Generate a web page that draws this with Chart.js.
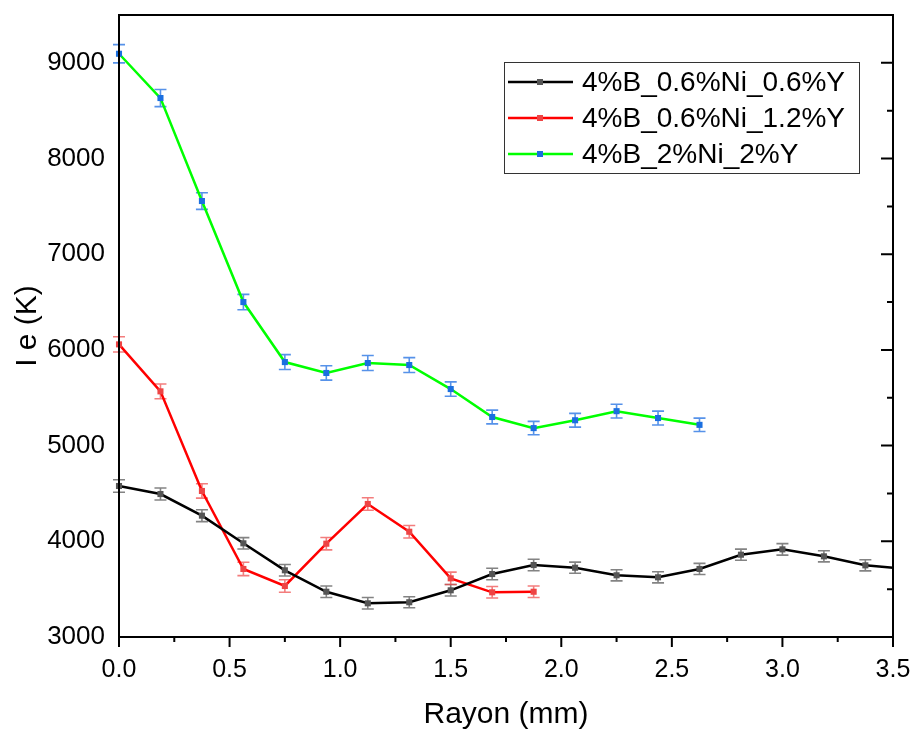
<!DOCTYPE html>
<html>
<head>
<meta charset="utf-8">
<script src="https://cdn.jsdelivr.net/npm/chart.js@4.4.1/dist/chart.umd.min.js"></script>
<style>
  html, body { margin: 0; padding: 0; background: #fff; }
  #box { width: 912px; height: 733px; position: relative; }
</style>
</head>
<body>
<div id="box"><canvas id="c"></canvas></div>
<script>
// rayon (mm) for each series
const rBlack = [0, 0.1875, 0.375, 0.5625, 0.75, 0.9375, 1.125, 1.3125, 1.5, 1.6875, 1.875, 2.0625, 2.25, 2.4375, 2.625, 2.8125, 3.0, 3.1875, 3.375, 3.5625];
const rRed   = [0, 0.1875, 0.375, 0.5625, 0.75, 0.9375, 1.125, 1.3125, 1.5, 1.6875, 1.875];
const rGreen = [0, 0.1875, 0.375, 0.5625, 0.75, 0.9375, 1.125, 1.3125, 1.5, 1.6875, 1.875, 2.0625, 2.25, 2.4375, 2.625];

// Te (K)
const tBlack = [4578, 4494, 4268, 3979, 3697, 3473, 3352, 3363, 3488, 3658, 3752, 3724, 3645, 3624, 3711, 3860, 3916, 3843, 3749, 3712];
const tRed   = [6058, 5567, 4526, 3711, 3533, 3975, 4390, 4100, 3613, 3467, 3473];
const tGreen = [9095, 8632, 7556, 6500, 5873, 5759, 5863, 5842, 5591, 5299, 5183, 5265, 5360, 5288, 5217];

// error bars (+/- K)
const eBlack = [65, 63, 62, 60, 60, 60, 60, 58, 60, 60, 60, 58, 58, 58, 58, 58, 60, 58, 58, 58];
const eRed   = [80, 77, 75, 70, 65, 65, 65, 65, 65, 60, 60];
const eGreen = [95, 90, 87, 80, 78, 75, 78, 78, 75, 72, 70, 72, 72, 72, 70];

const labels = ['4%B_0.6%Ni_0.6%Y', '4%B_0.6%Ni_1.2%Y', '4%B_2%Ni_2%Y'];
const lineColors = ['#000000', '#ff0000', '#00ff00'];
const markColors = ['#555555', '#ee4444', '#1a6fe0'];
const barColors = ['rgba(90,90,90,0.75)', 'rgba(238,70,70,0.7)', 'rgba(30,110,225,0.75)'];

const xMajor = [0, 0.5, 1, 1.5, 2, 2.5, 3, 3.5];
const yMajor = [3000, 4000, 5000, 6000, 7000, 8000, 9000];

const pts = (xs, ys) => xs.map((x, i) => ({ x, y: ys[i] }));
const errs = [eBlack, eRed, eGreen];

const FONT = "'Liberation Sans', Arial, sans-serif";

// error bars
const errPlugin = {
  id: 'errs',
  beforeDatasetsDraw(chart) {
    const { ctx } = chart;
    const xs = chart.scales.x, ys = chart.scales.y;
    chart.data.datasets.forEach((ds, di) => {
      ctx.save();
      ctx.strokeStyle = barColors[di];
      ctx.lineWidth = 1.6;
      ds.data.forEach((p, i) => {
        if (p.x > 3.5) return;
        const px = xs.getPixelForValue(p.x);
        const top = ys.getPixelForValue(p.y + errs[di][i]);
        const bot = ys.getPixelForValue(p.y - errs[di][i]);
        ctx.beginPath();
        ctx.moveTo(px, top); ctx.lineTo(px, bot);
        ctx.moveTo(px - 6, top); ctx.lineTo(px + 6, top);
        ctx.moveTo(px - 6, bot); ctx.lineTo(px + 6, bot);
        ctx.stroke();
      });
      ctx.restore();
    });
  }
};

// frame, ticks and legend
const framePlugin = {
  id: 'frame',
  afterDraw(chart) {
    const { ctx, chartArea: a } = chart;
    const xs = chart.scales.x, ys = chart.scales.y;
    ctx.save();
    ctx.strokeStyle = '#000';
    ctx.lineWidth = 2;
    ctx.strokeRect(a.left, a.top, a.right - a.left, a.bottom - a.top);
    ctx.beginPath();
    for (let v = 0; v <= 3.5001; v += 0.25) {
      const px = xs.getPixelForValue(v);
      const len = Math.abs(v * 2 - Math.round(v * 2)) < 1e-6 ? 10 : 5;
      ctx.moveTo(px, a.bottom); ctx.lineTo(px, a.bottom + len);
    }
    for (let v = 3500; v <= 9500; v += 500) {
      const py = ys.getPixelForValue(v);
      const len = v % 1000 === 0 ? 12 : 6;
      ctx.moveTo(a.right, py); ctx.lineTo(a.right - len, py);
    }
    ctx.stroke();

    // legend
    const L = 504, T = 62, R = 859, B = 173;
    ctx.lineWidth = 1;
    ctx.strokeStyle = '#333';
    ctx.strokeRect(L + 0.5, T + 0.5, R - L, B - T);
    const rows = [82, 118, 154];
    ctx.font = '28px ' + FONT;
    ctx.textBaseline = 'middle';
    ctx.fillStyle = '#000';
    rows.forEach((y, i) => {
      ctx.strokeStyle = lineColors[i];
      ctx.lineWidth = 2.5;
      ctx.beginPath(); ctx.moveTo(508, y); ctx.lineTo(573, y); ctx.stroke();
      ctx.fillStyle = markColors[i];
      ctx.fillRect(537, y - 3, 6, 6);
      ctx.fillStyle = '#000';
      ctx.fillText(labels[i], 582, y + 1);
    });
    ctx.restore();
  }
};

const mk = (i, xs, ys, clip) => ({
  label: labels[i],
  data: pts(xs, ys),
  borderColor: lineColors[i],
  backgroundColor: markColors[i],
  borderWidth: 2.5,
  pointStyle: 'rect',
  pointRadius: 4.3,
  pointBorderWidth: 0,
  pointBackgroundColor: markColors[i],
  tension: 0,
  clip
});

new Chart(document.getElementById('c'), {
  type: 'line',
  data: {
    datasets: [
      mk(0, rBlack, tBlack, { left: 10, top: 10, right: 0, bottom: 10 }),
      mk(1, rRed, tRed, 10),
      mk(2, rGreen, tGreen, 10)
    ]
  },
  options: {
    responsive: true,
    maintainAspectRatio: false,
    animation: false,
    layout: { padding: { top: 15, right: 19, left: 0, bottom: 0 } },
    plugins: { legend: { display: false }, tooltip: { enabled: false } },
    scales: {
      x: {
        type: 'linear', min: 0, max: 3.5,
        grid: { display: false },
        border: { display: false },
        afterBuildTicks: s => { s.ticks = xMajor.map(v => ({ value: v })); },
        afterFit: s => { s.height = 96; s.paddingLeft = 0; s.paddingRight = 0; },
        ticks: {
          color: '#000', padding: 10, maxRotation: 0,
          font: { family: FONT, size: 25 },
          callback: v => v.toFixed(1)
        },
        title: {
          display: true, text: 'Rayon (mm)', color: '#000',
          font: { family: FONT, size: 30 }, padding: { top: 4, bottom: 0 }
        }
      },
      y: {
        type: 'linear', min: 3000, max: 9500,
        grid: { display: false },
        border: { display: false },
        afterBuildTicks: s => { s.ticks = yMajor.map(v => ({ value: v })); },
        afterFit: s => { s.width = 119; s.paddingTop = 0; s.paddingBottom = 0; },
        ticks: {
          color: '#000', padding: 6,
          font: { family: FONT, size: 26 },
          callback: v => String(v)
        },
        title: {
          display: true, text: 'I e (K)', color: '#000',
          font: { family: FONT, size: 30 }, padding: { top: 10, bottom: 0 }
        }
      }
    }
  },
  plugins: [errPlugin, framePlugin]
});
</script>
</body>
</html>
